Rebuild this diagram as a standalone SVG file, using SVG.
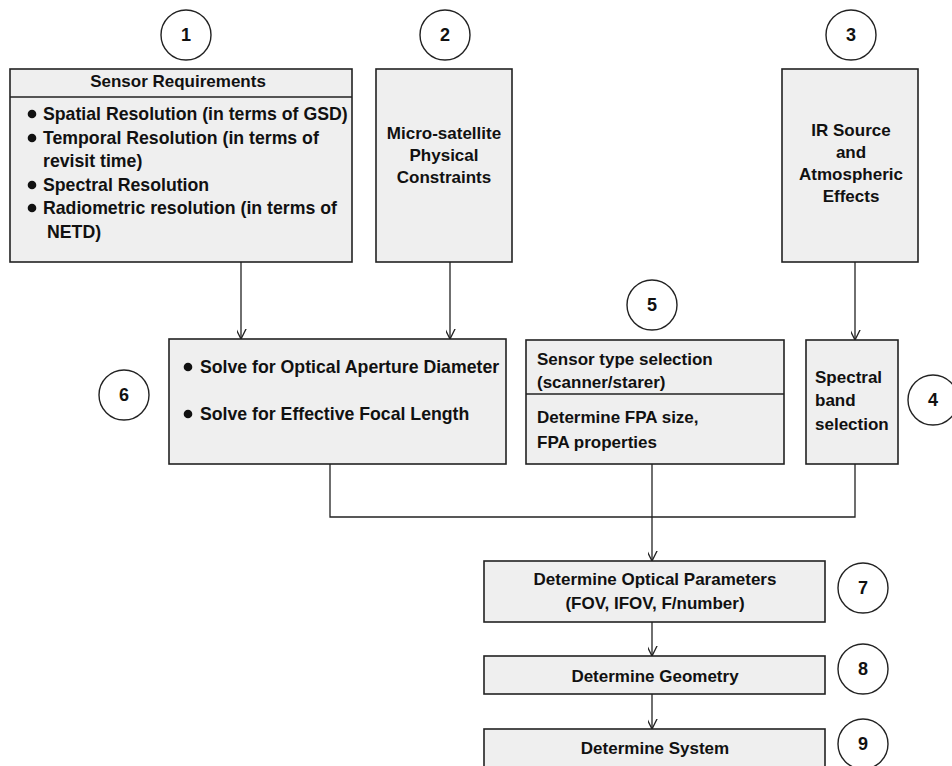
<svg xmlns="http://www.w3.org/2000/svg" width="952" height="766" viewBox="0 0 952 766">
<defs>
<style>
.box{fill:#efefef;stroke:#222;stroke-width:1.6}
.div{stroke:#222;stroke-width:1.4;fill:none}
.num{fill:#fff;stroke:#222;stroke-width:1.4}
.t{font-family:"Liberation Sans",Arial,sans-serif;font-weight:bold;font-size:17px;fill:#111}
.b{font-size:17.7px}
.n{font-size:18px}
.c{text-anchor:middle}
.con{fill:none;stroke:#222;stroke-width:1.3}
.bul{fill:#111}
</style>
<marker id="v" markerUnits="userSpaceOnUse" markerWidth="20" markerHeight="20" viewBox="-10 -16 20 20" refX="0" refY="0" orient="auto-start-reverse">
<path d="M-7,-14 L0,0 L7,-14" fill="none" stroke="#222" stroke-width="1.3" transform="rotate(-90)"/>
</marker>
</defs>
<rect width="952" height="766" fill="#fff"/>
<g id="connectors">
<line class="con" x1="241" y1="262" x2="241" y2="339" marker-end="url(#v)"/>
<line class="con" x1="450" y1="262" x2="450" y2="339" marker-end="url(#v)"/>
<line class="con" x1="855" y1="262" x2="855" y2="340" marker-end="url(#v)"/>
<polyline class="con" points="330,464 330,517 855,517 855,464"/>
<line class="con" x1="652" y1="464" x2="652" y2="561" marker-end="url(#v)"/>
<line class="con" x1="652" y1="622" x2="652" y2="656" marker-end="url(#v)"/>
<line class="con" x1="652" y1="694" x2="652" y2="729" marker-end="url(#v)"/>
</g>
<g id="n1">
<rect class="box" x="10" y="69" width="342" height="193"/>
<line class="div" x1="10" y1="97" x2="352" y2="97"/>
<text class="t c" x="178" y="87">Sensor Requirements</text>
<circle class="bul" cx="32" cy="114" r="4.3"/>
<circle class="bul" cx="32" cy="138" r="4.3"/>
<circle class="bul" cx="32" cy="185" r="4.3"/>
<circle class="bul" cx="32" cy="208" r="4.3"/>
<text class="t b" x="43" y="120">Spatial Resolution (in terms of GSD)</text>
<text class="t b" x="43" y="144">Temporal Resolution (in terms of</text>
<text class="t b" x="43" y="167">revisit time)</text>
<text class="t b" x="43" y="191">Spectral Resolution</text>
<text class="t b" x="43" y="214">Radiometric resolution (in terms of</text>
<text class="t b" x="47" y="238">NETD)</text>
</g>
<g id="c1"><circle class="num" cx="186" cy="35" r="25"/><text class="t n c" x="186" y="41">1</text></g>
<g id="n2">
<rect class="box" x="376" y="69" width="136" height="193"/>
<text class="t c" x="444" y="139">Micro-satellite</text>
<text class="t c" x="444" y="161">Physical</text>
<text class="t c" x="444" y="183">Constraints</text>
</g>
<g id="c2"><circle class="num" cx="445" cy="35" r="25"/><text class="t n c" x="445" y="41">2</text></g>
<g id="n3">
<rect class="box" x="782" y="69" width="136" height="193"/>
<text class="t c" x="851" y="136">IR Source</text>
<text class="t c" x="851" y="158">and</text>
<text class="t c" x="851" y="180">Atmospheric</text>
<text class="t c" x="851" y="202">Effects</text>
</g>
<g id="c3"><circle class="num" cx="851" cy="35" r="25"/><text class="t n c" x="851" y="41">3</text></g>
<g id="n6">
<rect class="box" x="169" y="339" width="337" height="125"/>
<circle class="bul" cx="188" cy="367" r="4.3"/>
<circle class="bul" cx="188" cy="414" r="4.3"/>
<text class="t b" x="200" y="373">Solve for Optical Aperture Diameter</text>
<text class="t b" x="200" y="420">Solve for Effective Focal Length</text>
</g>
<g id="c6"><circle class="num" cx="124" cy="395" r="25"/><text class="t n c" x="124" y="401">6</text></g>
<g id="n5">
<rect class="box" x="526" y="340" width="258" height="124"/>
<line class="div" x1="526" y1="394" x2="784" y2="394"/>
<text class="t" x="537" y="365">Sensor type selection</text>
<text class="t" x="537" y="388">(scanner/starer)</text>
<text class="t" x="537" y="423">Determine FPA size,</text>
<text class="t" x="537" y="448">FPA properties</text>
</g>
<g id="c5"><circle class="num" cx="652" cy="305" r="25"/><text class="t n c" x="652" y="311">5</text></g>
<g id="n4">
<rect class="box" x="806" y="340" width="92" height="124"/>
<text class="t" x="815" y="383">Spectral</text>
<text class="t" x="815" y="406">band</text>
<text class="t" x="815" y="430">selection</text>
</g>
<g id="c4"><circle class="num" cx="933" cy="400" r="25"/><text class="t n c" x="933" y="406">4</text></g>
<g id="n7">
<rect class="box" x="484" y="561" width="341" height="61"/>
<text class="t c" x="655" y="585">Determine Optical Parameters</text>
<text class="t c" x="655" y="609">(FOV, IFOV, F/number)</text>
</g>
<g id="c7"><circle class="num" cx="863" cy="588" r="25"/><text class="t n c" x="863" y="594">7</text></g>
<g id="n8">
<rect class="box" x="484" y="656" width="341" height="38"/>
<text class="t c" x="655" y="682">Determine Geometry</text>
</g>
<g id="c8"><circle class="num" cx="863" cy="669" r="25"/><text class="t n c" x="863" y="675">8</text></g>
<g id="n9">
<rect class="box" x="484" y="729" width="341" height="60"/>
<text class="t c" x="655" y="754">Determine System</text>
</g>
<g id="c9"><circle class="num" cx="863" cy="744" r="25"/><text class="t n c" x="863" y="750">9</text></g>
</svg>
